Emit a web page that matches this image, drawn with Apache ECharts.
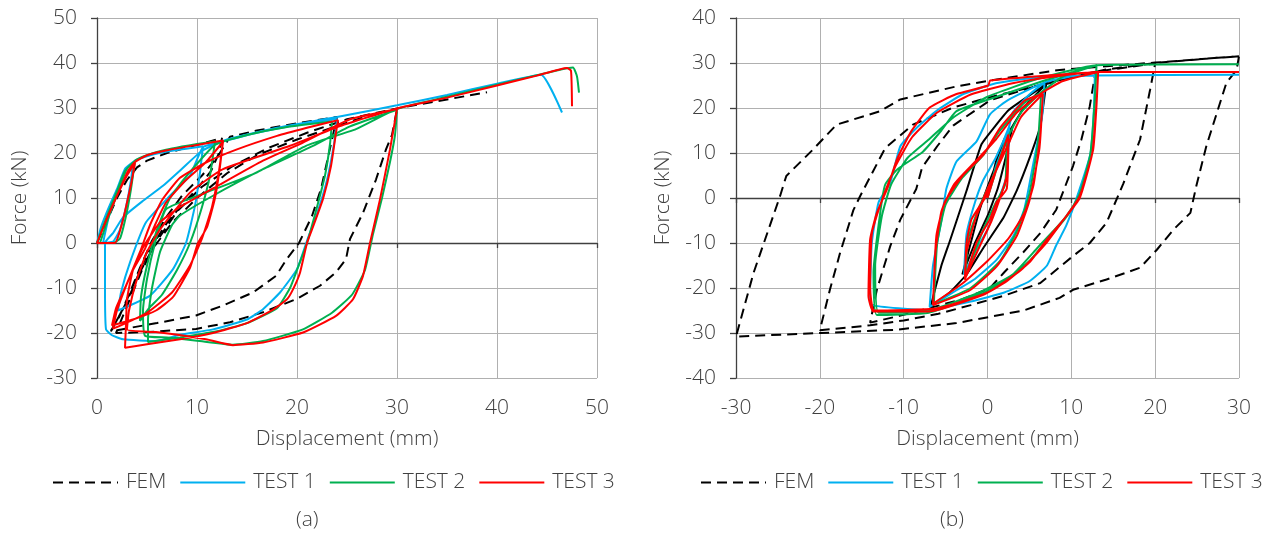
<!DOCTYPE html>
<html>
<head>
<meta charset="utf-8">
<script src="https://cdn.jsdelivr.net/npm/echarts@6/dist/echarts.min.js"></script>
<style>
  html, body { margin: 0; padding: 0; background: #ffffff; }
  #chart { width: 1281px; height: 543px; }
</style>
</head>
<body>
<div id="chart"></div>
<script>
// ---- Panel (a): monotonic-cyclic loading, displacement 0..50 mm ----
const seriesNames = ['FEM', 'TEST 1', 'TEST 2', 'TEST 3'];
const xTicksA = [0, 50, 10];
const yTicksA = [-30, 50, 10];
const xTicksB = [-30, 30, 10];
const yTicksB = [-40, 40, 10];

const femA = [
  [0,0],[1,5],[2,10],[3,14],[4,16.8],[5,18.3],[7,20],[10,21.8],[12.5,23.3],
  [12.2,20],[11.4,16],[10,12],[8.5,8.5],[7,4.5],[5.7,0],[4.6,-4.5],[3.6,-10],[2.6,-14.7],[1.4,-19.5],
  [2.2,-16.5],[3.2,-11.5],[4.3,-5.5],[5.5,0.5],[7,6],[8.5,10.5],[10.5,15],[12,19],[13.3,23.6],
  [16,25],[20,26.6],[24,28],
  [23.5,23],[23,18],[22.4,12],[21.5,6],[20.2,0],[19,-3.5],[17.9,-7.3],[15.6,-11],[12.6,-13.9],[9.9,-16.1],[6,-17.8],[1.4,-19.6],
  [2.5,-15],[3.8,-8.5],[5.5,-1.5],[7.5,4.5],[10,10],[13,15.5],[16,19.5],[20,23],[24,26],[27,28.2],[30,29.7],
  [29.5,24],[28.9,20.8],[27.9,14.1],[26.6,6.7],[25.3,0.9],[24.9,-3.6],[23.9,-6.5],[22.3,-9.5],[20,-12.4],[16.6,-15.4],[13.3,-17.6],[9.9,-19.1],[5,-19.8],[1.9,-20],
  [3,-14],[4.5,-6],[6,0.5],[8,7],[10.5,12.5],[13.5,17],[17,21],[21,24.5],[25,27.5],[30,29.9],[34,31.5],[39,33.5]
];

const test1A = [
  [0,0],[0.4,3.5],[1.2,8],[2,12],[2.8,16.5],[3.6,18],
  [3.4,14],[2.9,8],[2.3,3],[1.6,0.3],[0.6,0],
  [1.2,6],[2,11],[2.8,16],[3.8,18.3],[5.5,19.6],[7.5,20.5],[10.6,21.5],
  [10.3,15.7],[9.8,8.3],[8.9,0],[7.6,-5.8],[5.3,-11.7],[2.1,-15],
  [2.4,-11],[3.3,-4.3],[4.9,4.6],[7.3,10.5],[9.3,15],[10.6,21.3],
  [13,22.8],[16,24.5],[20,26.2],[24,27.6],
  [23.7,22],[23,14],[22,6.5],[21,0.5],[20,-5.8],[18.3,-11],[16.6,-14.7],[15,-17],[11.6,-19.2],[8.3,-20.4],[5.9,-21.8],[2.6,-21.4],[1.5,-20.5],[0.9,-19.2],[0.8,-10],[0.8,0],
  [1.6,2.2],[2.6,5.7],[4.5,9.2],[6.6,12.7],[8.5,16.5],[10.5,20.5],[13,23],[18,25.6],[24,28],[30,30.6],[35,32.9],[40,35.4],[44.4,37.4],[46.5,29]
];

const test2A = [
  [0,0],[1,6],[2,11.5],[2.8,16],[3.8,18.3],
  [3.4,12],[2.9,6],[2.3,1],[1.6,0],[0.3,0],
  [1.2,6],[2.2,12],[3,16.5],[4,18.6],[5.5,19.9],[7.5,21],[10,22],[11.8,22.6],
  [11.3,15],[10.5,8],[9.3,0],[8,-6],[6.5,-11.5],[5.2,-14.5],[4.3,-17.3],
  [4.4,-12],[5,-5],[6,3],[7.3,10],[9,15],[11.8,21.8],
  [15,24],[19,25.8],[23.5,27],
  [23.3,22],[22.8,15],[22,8],[21,0],[20,-6],[19.3,-10],[18,-14.5],[15,-17.8],[11.6,-19.8],[8.3,-21],[5.1,-22],
  [5.1,-17],[5.5,-10],[6.3,-2],[7.5,4],[8.3,6.1],[11.6,10.5],[16.6,16.4],[21.6,21.6],[25.3,25.9],[30,29.6],
  [29.8,24],[29.3,18],[28.5,10],[27.6,2],[26.8,-6],[25.5,-11.5],[23.5,-15.5],[20.6,-19.2],[16.6,-21.8],[13.6,-22.6],[10,-21.7],[7,-21],[4.8,-20.6],
  [4.6,-15],[5,-8],[5.8,0],[6.9,7.5],[10.9,11.2],[15.9,15.6],[20.9,21.6],[25.9,25.3],[30,29.8],[35,32.5],[40,35.2],[44,37.3],[46.5,38.6],[47.6,39],[48,37],[48.2,33.4]
];

const test3A = [
  [0,0],[1,5.5],[2,10.5],[3,15],[3.8,17.8],
  [3.4,13],[2.8,7],[2.2,2],[1.8,0],[0.5,0],[0,0],
  [1,5.5],[2.2,11.5],[3.1,16],[3.8,18],[5,19.5],[7,20.6],[10,21.8],[12.6,22.8],
  [12.3,17],[11.8,10],[11,3.5],[10.1,0],[9.3,-5.5],[7.6,-12],[5.9,-15],[3.6,-17],[1.5,-18.3],
  [1.9,-14.5],[2.6,-11],[3.6,-6],[4.8,-1.3],[5.8,4],[6.9,9],[8.9,14],[10.9,18],[12.6,22.5],
  [12.2,16],[11.5,8],[10.5,1],[9.3,-5],[7.5,-11],[5,-15.5],[2.5,-18.2],[1.6,-19],
  [2,-15],[3,-9],[4.3,-2],[5.3,4],[6.5,9.5],[8.3,14.5],[11,18],[14,20.8],[18,23.8],[21,25.6],[24.1,27.3],
  [23.9,24.5],[23.4,17.1],[22.6,9.8],[21.5,3],[21,0],[20.3,-6.6],[19.6,-10.3],[19,-12.5],[17.6,-14.8],[15,-17.8],[11.6,-20],[8.3,-21.4],[5,-22.5],[2.8,-23.3],
  [2.9,-18],[3,-12.5],[3.6,-6],[4.6,-1],[6.3,4.6],[8.3,8],[12.3,13],[16.6,18.3],[20.6,22.3],[25.3,27.5],[30,29.8],
  [29.3,20.8],[28.3,9.7],[27.3,0],[26.6,-7.3],[25.6,-12.5],[23.9,-16.2],[20.6,-19.9],[16.6,-22.1],[13.6,-22.7],[10.9,-21.4],[5.9,-19.8],[3,-19.2],
  [3.2,-15],[4,-8],[5,-2],[6.3,3],[9.3,11.2],[12.6,16.4],[19.3,21.6],[24.3,26],[30,29.9],[35,32.3],[40,35],[44,37.2],[47,38.9],[47.4,38.3],[47.5,30.4]
];

// ---- Panel (b): fully reversed cyclic loading, displacement -30..30 mm ----
const femInnerB = [
  [0,0],[1,8],[2,13],[3,16],[2.3,10],[1.2,2],[0,-4],[-1.5,-10],[-3,-17],[-2,-10],[-1,-3],[0.5,5],[2,12],[3,16],
  [4.5,20.5],[7,25.3],[6.3,16],[5.1,9.3],[3.5,1.7],[1.9,-4.4],[-0.5,-11.1],[-2.5,-17],[-4.5,-21],[-6.8,-24.2],
  [-5.5,-15],[-4.5,-9.6],[-2.5,1.6],[-0.7,12],[2.5,19.5],[7,25.3]
];

const femB = [
  [7,25.3],[10,26.8],[13,28],
  [12.8,27.1],[12.2,20.4],[11.2,13],[10.2,7.1],[8.2,-2.6],[6.3,-7.8],[4.3,-12],[2,-16.5],[0.3,-20],[-3,-22.5],[-7,-24.5],[-10.5,-26.2],[-14,-27.7],
  [-13.2,-20.4],[-11.6,-10.7],[-10.4,-4.8],[-8.5,2],[-7.8,6.8],[-6,11.5],[-4.1,16.1],[0.3,21.7],[6.7,25.4],[13,28.1],
  [16.5,29],[20,29.9],
  [19.4,24.1],[18.2,13],[16.2,3.2],[14.2,-5.5],[12.2,-10],[10.2,-12.9],[6.3,-18.9],[2,-21.7],[-2,-23.8],[-6,-25.8],[-10,-27.2],[-14,-28.3],[-20,-29.4],
  [-18.8,-20.4],[-17.6,-12.3],[-16,-2.7],[-15.2,0.4],[-12.2,11.1],[-8.9,16.3],[-4.1,20.1],[0.3,22.4],[8.4,26.1],[14,28.5],[20,30],
  [25,30.8],[30,31.5],
  [29.7,28.4],[28.5,25.6],[26.1,11.5],[24.9,2.6],[24.2,-3.3],[22.2,-7],[20.2,-11.5],[18.2,-15.5],[14.2,-18.1],[10.2,-20.4],[8.6,-22.2],[4.3,-25],[-3.7,-27.8],[-11,-29.3],[-19.9,-30],[-30,-30.8],
  [-27.9,-16.6],[-24.75,0.4],[-24,4.9],[-20.8,10.8],[-18,16.3],[-12.8,19.3],[-10.4,21.9],[-3.7,24.8],[0.3,26.1],[8.3,28.4],[20,30.1],[30,31.5]
];

const test1B = [
  [0,0],[1,7],[2,12],[2.6,16],[2.3,5],[1.2,-1],[0,-7],[-1.5,-12],[-2.8,-17],[-2.5,-8],[-1.5,-1],[-0.5,4],[1,9],[2.6,16],
  [3,19],[5,23],[6.8,25.7],[6.5,18],[5.5,8],[4.4,-2.4],[3.1,-8.4],[1.1,-13.7],[-1.5,-18],[-3.7,-20.5],[-6.9,-24.2],
  [-6.5,-15],[-5.5,-5],[-4.9,2.1],[-3.7,8.1],[-1.3,12.6],[0.3,18.6],[2.3,21.6],[6.8,25.7],
  [10,27],[12.8,27.2],[12.7,20],[12.3,10],[10.6,-0.2],[9.4,-6.1],[8.2,-10.5],[7.1,-15],[5,-18.5],[2,-21],[-2,-23],[-7.4,-24.9],[-13.8,-23.8],
  [-14,-21.5],[-13.8,-10],[-13,-1],[-11.6,3.4],[-10.4,11.5],[-8.5,15.5],[-6,19.5],[-3,23],[1,25.5],[6,26.8],[12.8,27.2],
  [30,27.4]
];

const test2B = [
  [0,0],[1,6],[2.3,13],[2.1,3],[1,-1],[-0.5,-7],[-2.6,-17.5],[-2.3,-9],[-1,-2],[0.5,4],[2.3,13],
  [4,19],[6.4,23.5],[6,12],[5,1],[3.6,-7],[1.5,-14],[-2,-20],[-6.4,-23.6],[-6,-10],[-5,-1.5],[-3,4.5],[-0.5,9.5],[1.5,15],[4.3,21],[6.4,23.5],
  [9,27],[13,29.5],
  [12.8,22],[12.3,10],[11,1],[9.5,-4],[7.5,-8.5],[5,-14],[2,-18.5],[-1,-21.5],[-7,-25.5],[-13.2,-26],
  [-13.6,-16.6],[-12.8,-3.3],[-12.2,3],[-10.8,6.3],[-7.7,10.3],[-5.5,15],[-3.7,19.3],[0.3,22],[6.8,26.1],[13,29.5],
  [12.8,21],[12.2,9],[10.8,0],[9,-5],[6,-11],[3,-17],[-1,-21],[-7,-25],[-13,-25.5],
  [-13.4,-15],[-12.6,-4],[-11.5,3],[-9.5,9],[-7,13],[-4,18],[0,22.5],[6,26.5],[13,29.5],
  [30,29.7]
];

const test3B = [
  [0,0],[1.1,6.6],[2.5,14.1],[2.3,2.1],[1.1,-0.9],[0.3,-4.7],[-1.3,-9.9],[-2.7,-18.2],[-2.5,-9.9],[-1.9,-4.7],[-0.1,0.6],[1.1,6.6],[2.5,14.1],
  [2.3,5],[1.5,0],[0.5,-5],[-1,-11],[-2.7,-18],
  [-2.5,-12],[-1.5,-5],[0,2],[1.5,8],[2.5,12],[4,18],[6.6,23.1],
  [6.2,11.1],[5,-0.6],[3.5,-8.4],[1.1,-15.2],[-2.1,-20.5],[-6.5,-23.8],
  [-6.1,-8.4],[-5.1,-0.9],[-2.9,5.1],[-0.5,9.6],[1.5,15.6],[4.4,21.6],[6.6,23.1],
  [6.3,14],[5.5,3],[4.5,-3],[2.5,-9],[0,-14],[-3,-19],[-6.5,-23.5],
  [-6.2,-12],[-5.5,-3],[-4,3],[-1.5,8],[1,13],[3.5,19],[6.6,23.5],
  [9,26],[13.2,28],
  [13,20.4],[12.6,10.7],[11,0.4],[9.4,-4],[7.1,-9.2],[5.1,-14.1],[2.3,-18.5],[-0.5,-21.5],[-7,-25.2],[-13.6,-25.2],
  [-14.2,-21.8],[-14,-9.2],[-13.2,-3.3],[-12,1.9],[-10.8,8.6],[-9.1,14.8],[-6.9,20.1],[-3.7,23.1],[0.1,25],[0.3,26.1],[8.4,27.4],[13.2,28],
  [13,21],[12.5,10],[11,0],[9,-5],[7,-10],[4,-16],[0,-21],[-6,-24.5],[-13.5,-25],
  [-14,-20],[-13.8,-8],[-12.5,0],[-11,7],[-9,13.5],[-6,19],[-2,23],[3,25.5],[8,27],[13.2,28],
  [30,28]
];

// ---- styling ----
const FONT = '"Open Sans", "Liberation Sans", sans-serif';
const FONT_SIZE = 21;
const FONT_WEIGHT = 300;
const TEXT = '#404040';
const GRID = '#b0b0b0';
const AXIS = '#404040';
const COLORS = { 'FEM': '#000000', 'TEST 1': '#00b0f0', 'TEST 2': '#00b050', 'TEST 3': '#ff0000' };

const grids = [
  { left: 97, top: 18, width: 500, height: 360 },
  { left: 736, top: 18, width: 503, height: 360 }
];

const textStyle = { fontSize: FONT_SIZE, color: TEXT, fontFamily: FONT, fontWeight: FONT_WEIGHT };

function labelAxisX(gi, t) {
  return {
    gridIndex: gi, type: 'value', min: t[0], max: t[1], interval: t[2], position: 'bottom',
    axisLine: { show: false, onZero: false }, axisTick: { show: false },
    axisLabel: Object.assign({ margin: 20 }, textStyle),
    splitLine: { show: true, lineStyle: { color: GRID, width: 1 } },
    name: 'Displacement (mm)', nameLocation: 'middle', nameGap: 51,
    nameTextStyle: textStyle
  };
}
function zeroAxisX(gi, t) {
  return {
    gridIndex: gi, type: 'value', min: t[0], max: t[1], interval: t[2], position: 'bottom',
    axisLine: { show: true, onZero: true, lineStyle: { color: AXIS, width: 1.3 } },
    axisTick: { show: true, length: 5, lineStyle: { color: AXIS, width: 1.3 } },
    axisLabel: { show: false }, splitLine: { show: false }
  };
}
function forceAxisY(gi, t, gap) {
  return {
    gridIndex: gi, type: 'value', min: t[0], max: t[1], interval: t[2],
    axisLine: { show: true, onZero: false, lineStyle: { color: AXIS, width: 1.3 } },
    axisTick: { show: true, length: 6, lineStyle: { color: AXIS, width: 1.3 } },
    axisLabel: Object.assign({ margin: 20 }, textStyle),
    splitLine: { show: true, lineStyle: { color: GRID, width: 1 } },
    name: 'Force (kN)', nameLocation: 'middle', nameGap: gap, nameRotate: 90,
    nameTextStyle: textStyle
  };
}

function curve(name, data, xi, yi, opts) {
  const o = opts || {};
  return {
    name, type: 'line', data, xAxisIndex: xi, yAxisIndex: yi,
    showSymbol: false, symbol: 'none', smooth: o.smooth != null ? o.smooth : 0.15,
    lineStyle: { color: COLORS[name], width: 2, type: o.dashed ? [10, 6] : 'solid' },
    itemStyle: { color: COLORS[name] },
    emphasis: { disabled: true }, animation: false
  };
}

function legendAt(left) {
  return {
    data: seriesNames, left, top: 472, orient: 'horizontal',
    itemWidth: 65, itemHeight: 14, itemGap: 13, padding: 0,
    itemStyle: { opacity: 0 },
    textStyle: Object.assign({ padding: [0, 0, 0, 3] }, textStyle), selectedMode: false
  };
}

const chart = echarts.init(document.getElementById('chart'), null, { renderer: 'canvas' });
chart.setOption({
  backgroundColor: '#ffffff',
  animation: false,
  grid: grids,
  xAxis: [labelAxisX(0, xTicksA), zeroAxisX(0, xTicksA), labelAxisX(1, xTicksB), zeroAxisX(1, xTicksB)],
  yAxis: [forceAxisY(0, yTicksA, 66), forceAxisY(1, yTicksB, 62)],
  legend: [legendAt(52), legendAt(700)],
  series: [
    curve('FEM', femA, 0, 0, { dashed: true, smooth: 0 }),
    curve('TEST 1', test1A, 0, 0),
    curve('TEST 2', test2A, 0, 0),
    curve('TEST 3', test3A, 0, 0),
    curve('FEM', femB, 2, 1, { dashed: true, smooth: 0 }),
    curve('FEM', femInnerB, 2, 1, { smooth: 0.1 }),
    curve('TEST 1', test1B, 2, 1),
    curve('TEST 2', test2B, 2, 1),
    curve('TEST 3', test3B, 2, 1)
  ],
  graphic: [
    { type: 'text', left: 296, top: 510, style: { text: '(a)', fontSize: FONT_SIZE, fontWeight: FONT_WEIGHT, fill: TEXT, fontFamily: FONT } },
    { type: 'text', left: 940, top: 510, style: { text: '(b)', fontSize: FONT_SIZE, fontWeight: FONT_WEIGHT, fill: TEXT, fontFamily: FONT } }
  ]
});
</script>
</body>
</html>
